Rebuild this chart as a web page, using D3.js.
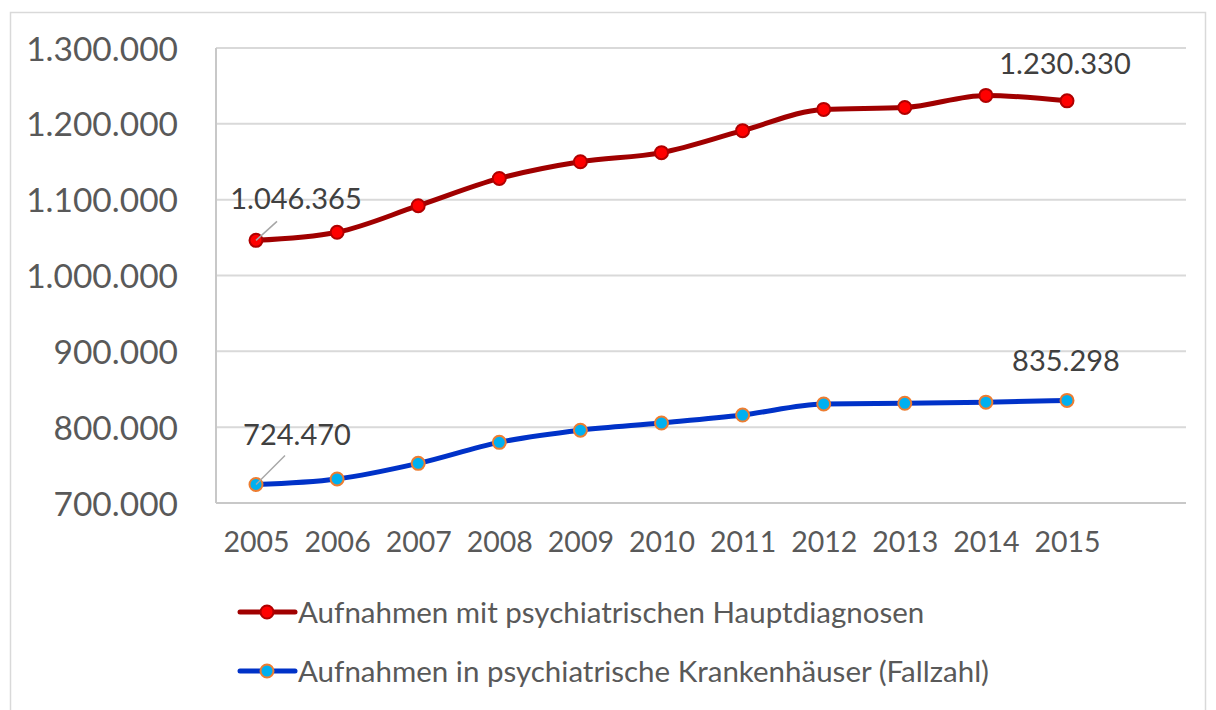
<!DOCTYPE html>
<html>
<head>
<meta charset="utf-8">
<script src="https://cdn.jsdelivr.net/npm/d3@7"></script>
<style>
  body { margin: 0; background: #fff; }
  text { font-family: Lato, "Open Sans", sans-serif; }
</style>
</head>
<body>
<div id="chart"></div>
<script>
// Data
const years = [2005, 2006, 2007, 2008, 2009, 2010, 2011, 2012, 2013, 2014, 2015];
const hauptdiagnosen = [1046365, 1057000, 1092000, 1128000, 1150000, 1162000, 1191000, 1219000, 1221600, 1237500, 1230330];
const krankenhaeuser = [724470, 731700, 752300, 780000, 796000, 805500, 816000, 830600, 831500, 833000, 835298];
const yTicks = [700000, 800000, 900000, 1000000, 1100000, 1200000, 1300000];
const seriesNames = [
    "Aufnahmen mit psychiatrischen Hauptdiagnosen",
    "Aufnahmen in psychiatrische Krankenhäuser (Fallzahl)"
];

const width = 1216, height = 710;
const plot = { left: 216, right: 1186, top: 48, bottom: 503 };

const fmt = d3.formatLocale({ decimal: ",", thousands: ".", grouping: [3], currency: ["", "€"] }).format(",d");

let svg = d3.select('#chart').append('svg')
    .attr('width', width)
    .attr('height', height);

// outer frame
svg.append('rect')
    .attr('x', 10.5).attr('y', 12.5)
    .attr('width', 1195).attr('height', 720)
    .attr('fill', 'none')
    .attr('stroke', '#d9d9d9')
    .attr('stroke-width', 1.5);

let xScale = d3.scalePoint()
    .domain(years)
    .range([256, 1067]);

let yScale = d3.scaleLinear()
    .domain([700000, 1300000])
    .range([plot.bottom, plot.top]);

// gridlines
svg.append('g').selectAll('line')
    .data(yTicks)
    .join('line')
    .attr('x1', plot.left).attr('x2', plot.right)
    .attr('y1', d => yScale(d)).attr('y2', d => yScale(d))
    .attr('stroke', d => d === 700000 ? '#c8c8c8' : '#d9d9d9')
    .attr('stroke-width', 2);

// left axis line
svg.append('line')
    .attr('x1', plot.left).attr('x2', plot.left)
    .attr('y1', plot.top).attr('y2', plot.bottom)
    .attr('stroke', '#c8c8c8')
    .attr('stroke-width', 2);

// y axis labels
let yAxis = svg.append('g')
    .attr('transform', `translate(${plot.left}, 0)`)
    .call(d3.axisLeft(yScale).tickValues(yTicks).tickFormat(fmt).tickSize(0).tickPadding(38));
yAxis.select('.domain').remove();
yAxis.selectAll('text')
    .attr('fill', '#595959')
    .style('font-size', '33.5px')
    .attr('dy', '0.36em');

// x axis labels
let xAxis = svg.append('g')
    .attr('transform', `translate(0, ${plot.bottom})`)
    .call(d3.axisBottom(xScale).tickSize(0).tickPadding(29));
xAxis.select('.domain').remove();
xAxis.selectAll('text')
    .attr('fill', '#595959')
    .style('font-size', '28.5px');

const series = [
    { values: hauptdiagnosen, line: '#a00000', fill: '#ff0000', stroke: '#b00000' },
    { values: krankenhaeuser, line: '#0032c8', fill: '#00b0f0', stroke: '#ed7d31' }
];

let lineGen = d3.line()
    .x((d, i) => xScale(years[i]))
    .y(d => yScale(d))
    .curve(d3.curveMonotoneX);

series.forEach(s => {
    svg.append('path')
        .datum(s.values)
        .attr('d', lineGen)
        .attr('fill', 'none')
        .attr('stroke', s.line)
        .attr('stroke-width', 5)
        .attr('stroke-linejoin', 'round');

    svg.append('g').selectAll('circle')
        .data(s.values)
        .join('circle')
        .attr('cx', (d, i) => xScale(years[i]))
        .attr('cy', d => yScale(d))
        .attr('r', 6.5)
        .attr('fill', s.fill)
        .attr('stroke', s.stroke)
        .attr('stroke-width', 2);
});

// data labels with leader lines
const labels = [
    { values: hauptdiagnosen, i: 0, dx: 40, dy: -42, leader: true },
    { values: hauptdiagnosen, i: 10, dx: -2, dy: -37, leader: false },
    { values: krankenhaeuser, i: 0, dx: 41, dy: -50, leader: true },
    { values: krankenhaeuser, i: 10, dx: -1, dy: -40, leader: false }
];

labels.forEach(l => {
    let px = xScale(years[l.i]), py = yScale(l.values[l.i]);
    if (l.leader) {
        svg.append('line')
            .attr('x1', px).attr('y1', py)
            .attr('x2', px + (l.values === hauptdiagnosen ? 21 : 29))
            .attr('y2', py + (l.values === hauptdiagnosen ? -19 : -29))
            .attr('stroke', '#a6a6a6')
            .attr('stroke-width', 1.5);
    }
    svg.append('text')
        .attr('x', px + l.dx)
        .attr('y', py + l.dy)
        .attr('text-anchor', 'middle')
        .attr('dy', '0.36em')
        .attr('fill', '#404040')
        .style('font-size', '29px')
        .text(fmt(l.values[l.i]));
});

// legend
let legend = svg.append('g');
series.forEach((s, i) => {
    let y = 612 + i * 59;
    legend.append('line')
        .attr('x1', 240).attr('x2', 295)
        .attr('y1', y).attr('y2', y)
        .attr('stroke', s.line)
        .attr('stroke-width', 5)
        .attr('stroke-linecap', 'round');
    legend.append('circle')
        .attr('cx', 267).attr('cy', y)
        .attr('r', 6.5)
        .attr('fill', s.fill)
        .attr('stroke', s.stroke)
        .attr('stroke-width', 2);
    legend.append('text')
        .attr('x', 298).attr('y', y)
        .attr('dy', '0.36em')
        .attr('fill', '#595959')
        .style('font-size', '29.5px')
        .text(seriesNames[i]);
});
</script>
</body>
</html>
